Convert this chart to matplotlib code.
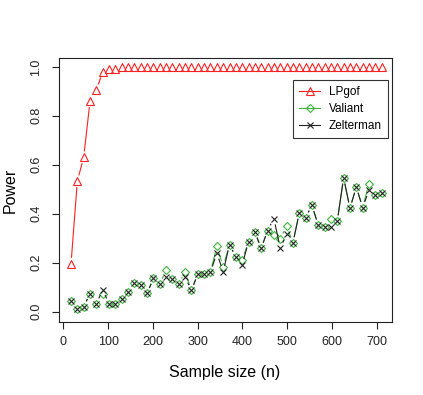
import numpy as np
import matplotlib
matplotlib.use("Agg")
import matplotlib.pyplot as plt
from matplotlib.lines import Line2D

plt.rcParams['font.family'] = ['Liberation Sans', 'DejaVu Sans']

# sample sizes (x grid)
sample_size = np.linspace(17, 711, 50)

lpgof = [0.195, 0.533, 0.63, 0.86, 0.905, 0.98, 0.99, 0.99] + [1.0] * 42

valiant = [0.044, 0.010, 0.020, 0.073, 0.031, 0.070, 0.031, 0.031, 0.053, 0.081,
           0.118, 0.110, 0.074, 0.136, 0.112, 0.168, 0.132, 0.113, 0.161, 0.086,
           0.154, 0.154, 0.161, 0.266, 0.184, 0.273, 0.223, 0.211, 0.285, 0.325,
           0.258, 0.331, 0.314, 0.297, 0.350, 0.280, 0.403, 0.384, 0.434, 0.353,
           0.344, 0.378, 0.369, 0.547, 0.422, 0.509, 0.425, 0.523, 0.478, 0.486]

zelterman = [0.044, 0.010, 0.020, 0.073, 0.031, 0.090, 0.031, 0.031, 0.053, 0.081,
             0.118, 0.110, 0.074, 0.136, 0.112, 0.143, 0.132, 0.113, 0.140, 0.086,
             0.154, 0.154, 0.161, 0.239, 0.163, 0.273, 0.223, 0.191, 0.285, 0.325,
             0.258, 0.331, 0.380, 0.260, 0.315, 0.280, 0.403, 0.384, 0.434, 0.353,
             0.344, 0.344, 0.369, 0.547, 0.422, 0.509, 0.425, 0.495, 0.478, 0.486]

RED = '#FF2020'
GREEN = '#3CB43C'
BLACK = '#222222'

fig = plt.figure(figsize=(4.23, 3.95), dpi=100)
ax = fig.add_axes([58.7 / 423, 1 - 322.3 / 395, (391.5 - 58.7) / 423, (322.3 - 58.3) / 395])
ax.set_xlim(-10.5, 733)
ax.set_ylim(-0.044, 1.035)


def type_b(ax, x, y, color, marker, ms, gap=6.5):
    # R style type="b": line segments stop short of the points
    pts = ax.transData.transform(np.column_stack([x, y]))
    inv = ax.transData.inverted()
    for p0, p1 in zip(pts[:-1], pts[1:]):
        d = p1 - p0
        L = np.hypot(*d)
        if L <= 2 * gap:
            continue
        u = d / L
        a = inv.transform(p0 + u * gap)
        b = inv.transform(p1 - u * gap)
        ax.plot([a[0], b[0]], [a[1], b[1]], color=color, lw=0.8)
    ax.plot(x, y, ls='none', marker=marker, ms=ms, mfc='none', mec=color, mew=0.8)


type_b(ax, sample_size, lpgof, RED, '^', 5.6)
type_b(ax, sample_size, valiant, GREEN, 'D', 4.3)
type_b(ax, sample_size, zelterman, BLACK, 'x', 5.0)

ax.set_xticks(range(0, 701, 100))
ax.set_yticks([0.0, 0.2, 0.4, 0.6, 0.8, 1.0])
ax.set_yticklabels(['0.0', '0.2', '0.4', '0.6', '0.8', '1.0'], rotation=90, va='center')
ax.tick_params(direction='out', length=5, width=0.8, labelsize=9, colors='#222222')
ax.tick_params(axis='x', pad=5)
ax.tick_params(axis='y', pad=7)
for s in ax.spines.values():
    s.set_linewidth(0.8)
    s.set_color('#222222')

ax.set_xlabel('Sample size (n)', fontsize=11.5, labelpad=12)
ax.set_ylabel('Power', fontsize=11.5, labelpad=9)

handles = [
    Line2D([], [], color=RED, lw=0.8, marker='^', ms=5.6, mfc='none', mec=RED, mew=0.8),
    Line2D([], [], color=GREEN, lw=0.8, marker='D', ms=4.3, mfc='none', mec=GREEN, mew=0.8),
    Line2D([], [], color=BLACK, lw=0.8, marker='x', ms=5.0, mec=BLACK, mew=0.8),
]
leg = ax.legend(handles, ['LPgof', 'Valiant', 'Zelterman'], loc='upper right',
                bbox_to_anchor=(0.99, 0.918), borderaxespad=0, fancybox=False, fontsize=8.5,
                handlelength=1.8, labelspacing=0.4, borderpad=0.55, handletextpad=0.7,
                framealpha=1)
leg.get_frame().set_edgecolor('#333333')
leg.get_frame().set_linewidth(0.8)

fig.savefig('out.png', dpi=100)
